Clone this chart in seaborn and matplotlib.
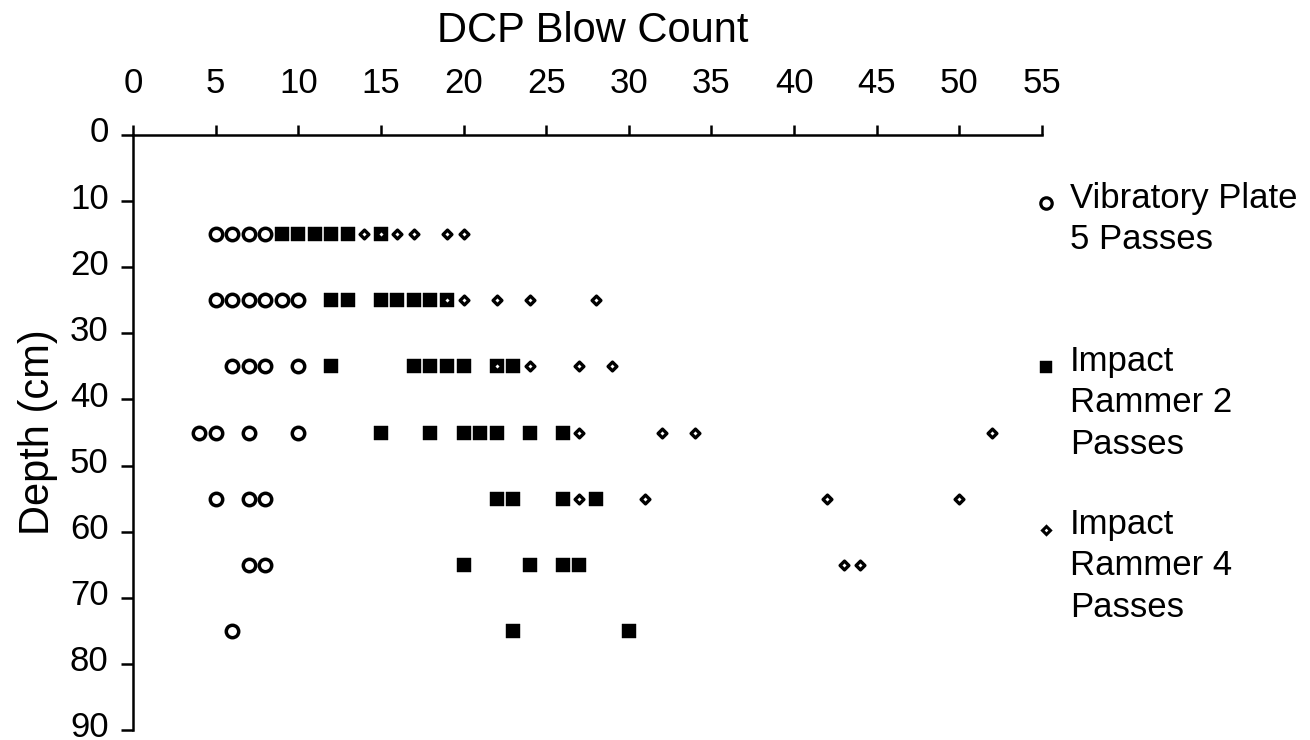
import matplotlib
matplotlib.use("Agg")
import matplotlib.pyplot as plt
from matplotlib.lines import Line2D
from matplotlib.transforms import ScaledTranslation
import seaborn as sns
import pandas as pd

# ---- data ----
vib_depth = [15]*4 + [25]*6 + [35]*4 + [45]*4 + [55]*3 + [65]*2 + [75]
vib_blows = [5, 6, 7, 8,
             5, 6, 7, 8, 9, 10,
             6, 7, 8, 10,
             4, 5, 7, 10,
             5, 7, 8,
             7, 8,
             6]

ir2_depth = [15]*6 + [25]*7 + [35]*7 + [45]*7 + [55]*4 + [65]*4 + [75]*2
ir2_blows = [9, 10, 11, 12, 13, 15,
             12, 13, 15, 16, 17, 18, 19,
             12, 17, 18, 19, 20, 22, 23,
             15, 18, 20, 21, 22, 24, 26,
             22, 23, 26, 28,
             20, 24, 26, 27,
             23, 30]

ir4_depth = [15]*6 + [25]*5 + [35]*4 + [45]*4 + [55]*4 + [65]*2
ir4_blows = [14, 15, 16, 17, 19, 20,
             19, 20, 22, 24, 28,
             22, 24, 27, 29,
             27, 32, 34, 52,
             27, 31, 42, 50,
             43, 44]

series_labels = ["Vibratory Plate\n5 Passes",
                 "Impact\nRammer 2\nPasses",
                 "Impact\nRammer 4\nPasses"]
x_ticks = list(range(0, 56, 5))
y_ticks = list(range(0, 91, 10))

df_vib = pd.DataFrame({"blows": vib_blows, "depth": vib_depth})
df_ir2 = pd.DataFrame({"blows": ir2_blows, "depth": ir2_depth})
df_ir4 = pd.DataFrame({"blows": ir4_blows, "depth": ir4_depth})

# ---- style ----
sns.set_style("white")
plt.rcParams["font.family"] = ["Liberation Sans", "DejaVu Sans"]
plt.rcParams["text.color"] = "black"
plt.rcParams["axes.labelcolor"] = "black"

W, H = 1310, 740
fig = plt.figure(figsize=(W/100, H/100), dpi=100)
ax = fig.add_axes([133/W, 1-730/H, (1042-133)/W, (730-135)/H])

sns.scatterplot(data=df_vib, x="blows", y="depth", ax=ax, marker="o",
                s=80, facecolor="white", edgecolor="black", linewidth=2.5,
                clip_on=False, zorder=3)
sns.scatterplot(data=df_ir2, x="blows", y="depth", ax=ax, marker="s",
                s=100, facecolor="black", edgecolor="black", linewidth=0.3,
                clip_on=False, zorder=4)
sns.scatterplot(data=df_ir4, x="blows", y="depth", ax=ax, marker="D",
                s=20, facecolor="white", edgecolor="black", linewidth=2.4,
                clip_on=False, zorder=5)

ax.set_xlim(0, 55)
ax.set_ylim(90, 0)
ax.set_xticks(x_ticks)
ax.set_yticks(y_ticks)
ax.xaxis.tick_top()
ax.xaxis.set_label_position("top")

for side in ["bottom", "right"]:
    ax.spines[side].set_visible(False)
for side in ["top", "left"]:
    ax.spines[side].set_visible(True)
    ax.spines[side].set_linewidth(1.8)
    ax.spines[side].set_color("black")

ax.tick_params(axis="x", which="major", direction="out", length=7, width=1.8,
               labelsize=25, pad=18, colors="black", top=True, bottom=False)
ax.tick_params(axis="y", which="major", direction="out", length=8.5, width=1.8,
               labelsize=25, pad=9, colors="black", left=True)
# y tick labels sit a few pixels above their ticks in the reference
shift = ScaledTranslation(0, 4/72, fig.dpi_scale_trans)
for lab in ax.get_yticklabels():
    lab.set_transform(lab.get_transform() + shift)

ax.set_xlabel("DCP Blow Count", fontsize=30)
ax.xaxis.set_label_coords((592.5-133)/909, 1 + (135-42)/595)
ax.set_ylabel("Depth (cm)", fontsize=30)
ax.yaxis.set_label_coords((58-133)/909, 0.5)
ax.grid(False)

# ---- legend (custom, right side) ----
leg_items = [
    ("o", "white", 2.3, 8.2, 203, 182),
    ("s", "black", 0.3, 9.2, 367, 345),
    ("D", "white", 2.2, 3.9, 530, 508),
]
for (mk, fc, mew, ms, my, ty), lab in zip(leg_items, series_labels):
    fig.add_artist(Line2D([1046/W], [1-my/H], marker=mk, markersize=ms,
                          markerfacecolor=fc, markeredgecolor="black",
                          markeredgewidth=mew, linestyle="none",
                          transform=fig.transFigure))
    fig.text(1070/W, 1-ty/H, lab, fontsize=25, va="top", ha="left",
             linespacing=1.32, color="black")

fig.savefig("out.png", dpi=100)
